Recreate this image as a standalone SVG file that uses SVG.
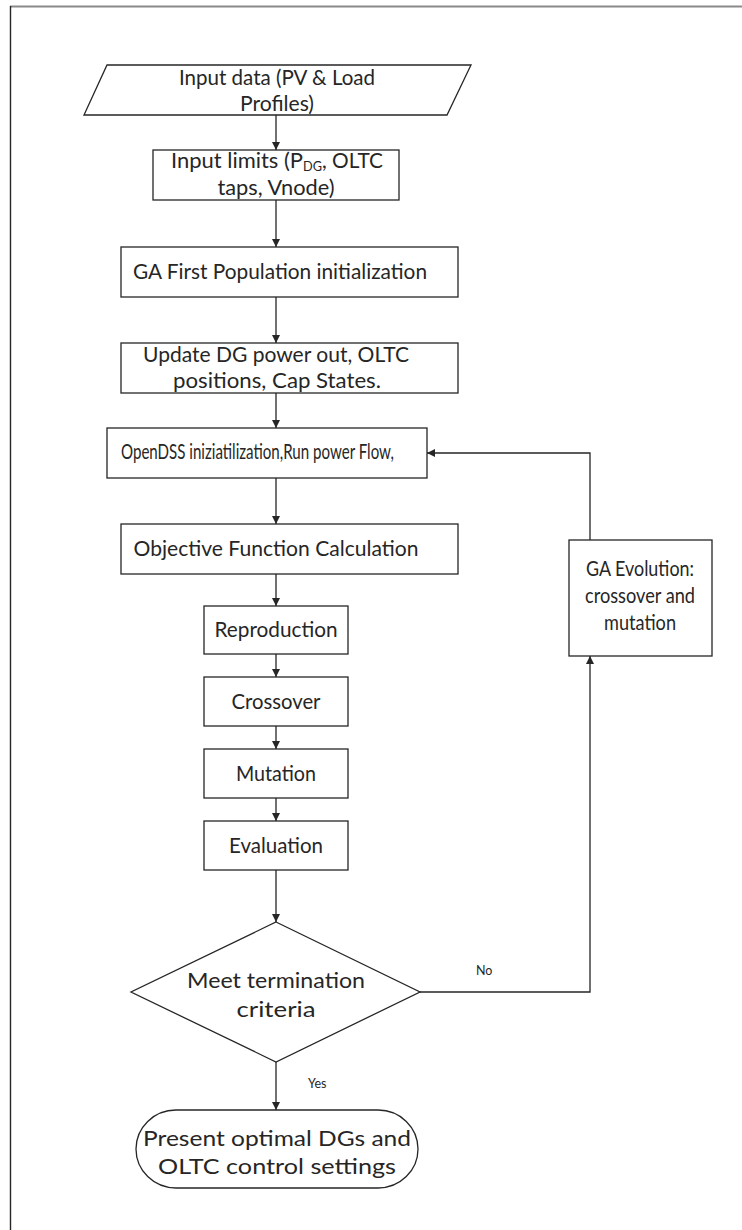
<svg xmlns="http://www.w3.org/2000/svg" width="742" height="1230" viewBox="0 0 742 1230">
<style>
.n{fill:#fff;stroke:#262626;stroke-width:1.3}
.t{font-family:Lato,"Liberation Sans",sans-serif;font-size:21px;fill:#262626;text-anchor:middle}
.l{font-family:Lato,"Liberation Sans",sans-serif;font-size:21px;fill:#262626}
.s{font-family:Lato,"Liberation Sans",sans-serif;font-size:12.5px;fill:#262626}
.c{fill:none;stroke:#262626;stroke-width:1.3}
</style>
<defs>
<marker id="a" markerWidth="9" markerHeight="8" refX="8" refY="4" orient="auto" markerUnits="userSpaceOnUse">
<path d="M0,0 L8,4 L0,8 Z" fill="#262626"/>
</marker>
</defs>
<rect width="742" height="1230" fill="#fff"/>
<line x1="10" y1="6.5" x2="742" y2="6.5" stroke="#8a8a8a" stroke-width="2"/>
<line x1="10.5" y1="6" x2="10.5" y2="1230" stroke="#262626" stroke-width="1.4"/>
<g id="connectors">
<line class="c" x1="276" y1="115" x2="276" y2="150" marker-end="url(#a)"/>
<line class="c" x1="276" y1="200" x2="276" y2="247" marker-end="url(#a)"/>
<line class="c" x1="276" y1="297" x2="276" y2="343" marker-end="url(#a)"/>
<line class="c" x1="276" y1="393" x2="276" y2="428" marker-end="url(#a)"/>
<line class="c" x1="276" y1="478" x2="276" y2="524" marker-end="url(#a)"/>
<line class="c" x1="276" y1="574" x2="276" y2="606" marker-end="url(#a)"/>
<line class="c" x1="276" y1="654" x2="276" y2="677" marker-end="url(#a)"/>
<line class="c" x1="276" y1="726" x2="276" y2="749" marker-end="url(#a)"/>
<line class="c" x1="276" y1="798" x2="276" y2="821" marker-end="url(#a)"/>
<line class="c" x1="276" y1="870" x2="276" y2="922" marker-end="url(#a)"/>
<line class="c" x1="276" y1="1062" x2="276" y2="1110" marker-end="url(#a)"/>
<polyline class="c" points="420,992 590,992 590,656" marker-end="url(#a)"/>
<polyline class="c" points="590,540 590,453 427,453" marker-end="url(#a)"/>
<text class="s" x="476" y="975">No</text>
<text class="s" x="308" y="1088">Yes</text>
</g>
<g id="input-data">
<polygon class="n" points="107,65 471,65 447,115 84,115"/>
<text class="t" x="277" y="85" textLength="196" lengthAdjust="spacingAndGlyphs">Input data (PV &amp; Load</text>
<text class="t" x="277" y="111" textLength="74" lengthAdjust="spacingAndGlyphs">Profiles)</text>
</g>
<g id="input-limits">
<rect class="n" x="153" y="150" width="246" height="50"/>
<text class="l" y="168"><tspan x="171" textLength="132" lengthAdjust="spacingAndGlyphs">Input limits (P</tspan><tspan x="303" dy="3" font-size="13.7" textLength="19" lengthAdjust="spacingAndGlyphs">DG</tspan><tspan x="322" dy="-3" textLength="61" lengthAdjust="spacingAndGlyphs">, OLTC</tspan></text>
<text class="t" x="276" y="195" textLength="117" lengthAdjust="spacingAndGlyphs">taps, Vnode)</text>
</g>
<g id="ga-init">
<rect class="n" x="121" y="247" width="337" height="50"/>
<text class="t" x="280" y="279" textLength="294" lengthAdjust="spacingAndGlyphs">GA First Population initialization</text>
</g>
<g id="update">
<rect class="n" x="121" y="343" width="337" height="50"/>
<text class="t" x="276" y="362" textLength="266" lengthAdjust="spacingAndGlyphs">Update DG power out, OLTC</text>
<text class="t" x="277" y="388" textLength="208" lengthAdjust="spacingAndGlyphs">positions, Cap States.</text>
</g>
<g id="opendss">
<rect class="n" x="107" y="428" width="320" height="50"/>
<text class="l" x="121" y="459" font-size="15.8" textLength="273" lengthAdjust="spacingAndGlyphs">OpenDSS iniziatilization,Run power Flow,</text>
</g>
<g id="objective">
<rect class="n" x="121" y="524" width="337" height="50"/>
<text class="t" x="276" y="556" textLength="285" lengthAdjust="spacingAndGlyphs">Objective Function Calculation</text>
</g>
<g id="reproduction">
<rect class="n" x="204" y="606" width="144" height="48"/>
<text class="t" x="276" y="637" textLength="123" lengthAdjust="spacingAndGlyphs">Reproduction</text>
</g>
<g id="crossover">
<rect class="n" x="204" y="677" width="144" height="49"/>
<text class="t" x="276" y="709" textLength="89" lengthAdjust="spacingAndGlyphs">Crossover</text>
</g>
<g id="mutation">
<rect class="n" x="204" y="749" width="144" height="49"/>
<text class="t" x="276" y="781" textLength="80" lengthAdjust="spacingAndGlyphs">Mutation</text>
</g>
<g id="evaluation">
<rect class="n" x="204" y="821" width="144" height="49"/>
<text class="t" x="276" y="853" textLength="94" lengthAdjust="spacingAndGlyphs">Evaluation</text>
</g>
<g id="decision">
<polygon class="n" points="276,922 420,992 276,1062 131,992"/>
<text class="t" x="276" y="988" font-size="23.5" textLength="178" lengthAdjust="spacingAndGlyphs">Meet termination</text>
<text class="t" x="276" y="1017" font-size="23.5" textLength="79" lengthAdjust="spacingAndGlyphs">criteria</text>
</g>
<g id="present">
<rect class="n" x="136" y="1110" width="282" height="78" rx="40" ry="39"/>
<text class="t" x="277" y="1146" font-size="25.5" textLength="268" lengthAdjust="spacingAndGlyphs">Present optimal DGs and</text>
<text class="t" x="277" y="1174" font-size="25.5" textLength="238" lengthAdjust="spacingAndGlyphs">OLTC control settings</text>
</g>
<g id="ga-evolution">
<rect class="n" x="569" y="540" width="143" height="116"/>
<text class="t" x="640" y="576" font-size="18" textLength="108" lengthAdjust="spacingAndGlyphs">GA Evolution:</text>
<text class="t" x="640" y="603" font-size="18" textLength="110" lengthAdjust="spacingAndGlyphs">crossover and</text>
<text class="t" x="640" y="630" font-size="18" textLength="72" lengthAdjust="spacingAndGlyphs">mutation</text>
</g>
</svg>
